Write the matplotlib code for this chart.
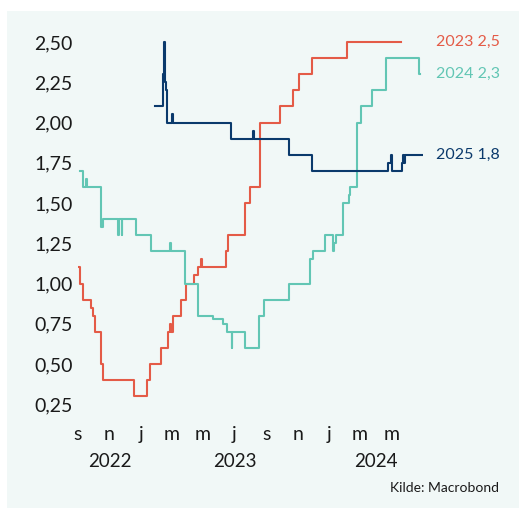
import matplotlib

matplotlib.use("Agg")
import matplotlib.pyplot as plt
import matplotlib.dates as mdates
import matplotlib.transforms as mtransforms
from matplotlib.patches import Rectangle
import numpy as np

# forward rate expectations (step series, value holds until next date)
red_dates = ["2022-09-03", "2022-09-05", "2022-09-10", "2022-09-26", "2022-10-01",
             "2022-10-03", "2022-10-15", "2022-10-20", "2022-12-18", "2023-01-13",
             "2023-01-18", "2023-02-09", "2023-02-22", "2023-02-26", "2023-02-28",
             "2023-03-05", "2023-03-19", "2023-03-29", "2023-04-14", "2023-04-22",
             "2023-04-27", "2023-04-30", "2023-06-15", "2023-06-18", "2023-07-21",
             "2023-07-31", "2023-08-20", "2023-09-27", "2023-10-22", "2023-11-04",
             "2023-11-28", "2024-02-04", "2024-05-19"]
red_values = [1.10, 1.00, 0.90, 0.85, 0.80,
              0.70, 0.50, 0.40, 0.30, 0.40,
              0.50, 0.60, 0.70, 0.75, 0.70,
              0.80, 0.90, 1.00, 1.05, 1.10,
              1.15, 1.10, 1.20, 1.30, 1.50,
              1.60, 2.00, 2.10, 2.20, 2.30,
              2.40, 2.50, 2.50]

teal_dates = ["2022-09-05", "2022-09-11", "2022-09-16", "2022-09-18", "2022-10-15",
              "2022-10-20", "2022-11-18", "2022-11-19", "2022-11-25", "2022-11-26",
              "2022-12-22", "2023-01-21", "2023-02-27", "2023-03-01", "2023-03-27",
              "2023-04-22", "2023-05-20", "2023-06-10", "2023-06-16", "2023-06-26",
              "2023-06-27", "2023-07-22", "2023-08-18", "2023-08-27", "2023-10-15",
              "2023-11-25", "2023-12-01", "2023-12-23", "2024-01-08", "2024-01-10",
              "2024-01-15", "2024-01-27", "2024-02-08", "2024-02-11", "2024-02-24",
              "2024-03-02", "2024-03-24", "2024-04-21", "2024-06-24", "2024-06-26"]
teal_values = [1.70, 1.60, 1.65, 1.60, 1.35,
               1.40, 1.30, 1.40, 1.30, 1.40,
               1.30, 1.20, 1.25, 1.20, 1.00,
               0.80, 0.78, 0.75, 0.70, 0.60,
               0.70, 0.60, 0.80, 0.90, 1.00,
               1.15, 1.20, 1.30, 1.20, 1.25,
               1.30, 1.50, 1.55, 1.60, 2.00,
               2.10, 2.20, 2.40, 2.30, 2.30]

blue_dates = ["2023-01-28", "2023-02-12", "2023-02-15", "2023-02-17", "2023-02-18",
              "2023-02-20", "2023-03-03", "2023-03-05", "2023-06-24", "2023-08-06",
              "2023-08-08", "2023-10-15", "2023-11-28", "2024-04-24", "2024-04-30",
              "2024-05-02", "2024-05-22", "2024-05-24", "2024-05-26", "2024-05-28",
              "2024-06-30"]
blue_values = [2.10, 2.30, 2.50, 2.25, 2.20,
               2.00, 2.05, 2.00, 1.90, 1.95,
               1.90, 1.80, 1.70, 1.75, 1.80,
               1.70, 1.75, 1.80, 1.75, 1.80,
               1.80]

series_labels = ["2023 2,5", "2024 2,3", "2025 1,8"]
series_colors = ["#e45b47", "#62c6b4", "#0b3a6c"]

month_ticks = ["2022-09-01", "2022-11-01", "2023-01-01", "2023-03-01", "2023-05-01",
               "2023-07-01", "2023-09-01", "2023-11-01", "2024-01-01", "2024-03-01",
               "2024-05-01"]
month_labels = ["s", "n", "j", "m", "m", "j", "s", "n", "j", "m", "m"]
year_labels = ["2022", "2023", "2024"]
year_centers = ["2022-11-01", "2023-07-02", "2024-04-01"]

y_ticks = [0.25, 0.50, 0.75, 1.00, 1.25, 1.50, 1.75, 2.00, 2.25, 2.50]

W, H = 523, 511
plt.rcParams["font.family"] = ["Lato", "DejaVu Sans"]
text_color = "#1a1a1a"

fig = plt.figure(figsize=(W / 100, H / 100), dpi=100)
fig.patch.set_facecolor("white")
fig.patches.append(Rectangle((7 / W, 1 - 508 / H), (519 - 7) / W, (508 - 11) / H,
                             transform=fig.transFigure, facecolor="#f1f8f7",
                             edgecolor="none", zorder=-10))

ax = fig.add_axes([78 / W, 1 - 412.3 / H, (423 - 78) / W, (412.3 - 34) / H])
ax.set_facecolor("none")
ax.set_zorder(1)

to_dt = lambda ds: np.array(ds, dtype="datetime64[D]")
all_series = [(red_dates, red_values), (teal_dates, teal_values), (blue_dates, blue_values)]
for (d, v), color in zip(all_series, series_colors):
    ax.step(to_dt(d), v, where="post", color=color, linewidth=1.5)

ax.set_xlim(np.datetime64("2022-09-01"), np.datetime64("2024-07-01"))
ax.set_ylim(0.2, 2.55)

ax.set_yticks(y_ticks)
ax.set_yticklabels([f"{t:.2f}".replace(".", ",") for t in y_ticks])
ax.set_xticks(to_dt(month_ticks))
ax.set_xticklabels(month_labels)
ax.tick_params(axis="both", length=0, colors=text_color, labelsize=14)
ax.tick_params(axis="y", pad=4)
ax.tick_params(axis="x", pad=10)
for side in ["top", "right", "bottom", "left"]:
    ax.spines[side].set_visible(False)

# year row under the month letters
year_trans = mtransforms.blended_transform_factory(ax.transData, fig.transFigure)
for label, center in zip(year_labels, year_centers):
    ax.text(mdates.date2num(np.datetime64(center)), 1 - 467 / H, label,
            transform=year_trans, ha="center", va="baseline", fontsize=13.5,
            color=text_color)

# end labels to the right of the lines
label_trans = mtransforms.blended_transform_factory(ax.transAxes, ax.transData)
for label, (d, v), color in zip(series_labels, all_series, series_colors):
    ax.text((436 - 78) / (423 - 78), v[-1], label, transform=label_trans,
            ha="left", va="center", fontsize=11.5, color=color, clip_on=False)

fig.text(499 / W, 1 - 492 / H, "Kilde: Macrobond", ha="right", va="baseline",
         fontsize=10, color=text_color)

fig.savefig("out.png", dpi=100)
